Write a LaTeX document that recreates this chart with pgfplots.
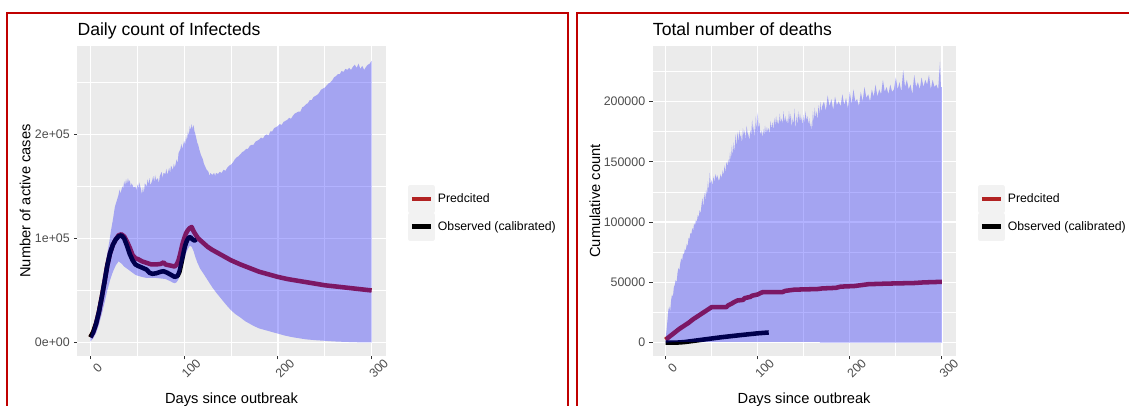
\documentclass[border=0pt]{standalone}
\usepackage{pgfplots}
\pgfplotsset{compat=1.18}
\usepackage{fontspec}
\setmainfont{Liberation Sans}
\definecolor{panelbg}{HTML}{EBEBEB}
\definecolor{firebrick}{HTML}{B22222}
\definecolor{borderred}{HTML}{C00000}
\definecolor{ticktext}{HTML}{4D4D4D}
\definecolor{tickcol}{HTML}{333333}
\definecolor{keybg}{HTML}{F2F2F2}

\pgfplotsset{
  ggstyle/.style={
    scale only axis,
    anchor=south west,
    axis background/.style={fill=panelbg},
    axis x line*=bottom, axis y line*=left,
    axis line style={draw=none},
    tick align=outside,
    major tick length=2.6pt,
    minor tick length=0pt,
    tick style={color=tickcol, line width=0.8pt},
    grid=both,
    major grid style={white, line width=1pt},
    minor grid style={white, line width=0.5pt},
    xmin=-14, xmax=315,
    xtick={0,100,200,300},
    xticklabels={0,100,200,300},
    minor xtick={50,150,250},
    scaled y ticks=false,
    ticklabel style={font=\fontsize{9.3}{11}\selectfont, text=ticktext},
    xticklabel style={xshift=5.25pt, yshift=-6.8pt, rotate=45, anchor=center},
    yticklabel style={anchor=east, xshift=0.5pt},
    every axis title/.style={at={(axis description cs:0,1)}, anchor=base west, inner sep=0pt, yshift=7.7pt, font=\fontsize{13.2}{15}\selectfont},
    label style={font=\fontsize{11}{13}\selectfont},
    xlabel style={at={(axis description cs:0.5,0)}, anchor=base, yshift=-35.5pt},
    xlabel={Days since outbreak},
    legend style={at={(axis description cs:1,0.5)}, anchor=west, xshift=16.5pt, yshift=-9pt,
      draw=none, fill=none, font=\fontsize{9.2}{11}\selectfont,
      row sep=0pt, column sep=2pt, inner sep=0pt, outer sep=0pt,
      nodes={inner sep=0pt}},
    legend cell align=left,
    legend image code/.code={
      \fill[keybg] (0pt,-8.625pt) rectangle (17.25pt,8.625pt);
      \draw[##1, line cap=butt] (1.5pt,0pt) -- (15.75pt,0pt);
    },
  },
  predline/.style={firebrick, line width=3.4pt, line join=round},
  obsline/.style={black, line width=3.4pt, line join=round},
  ribbon/.style={fill=blue, fill opacity=0.3, draw=none, forget plot},
}

\begin{document}
\begin{tikzpicture}
% ---------------- Left panel ----------------
\begin{axis}[ggstyle,
  at={(57.98pt,37.5pt)}, width=231.3pt, height=232.5pt,
  ymin=-13000, ymax=285000,
  ytick={0,100000,200000},
  yticklabels={0e+00,1e+05,2e+05},
  minor ytick={50000,150000,250000},
  title={Daily count of Infecteds},
  ylabel={Number of active cases},
  ylabel style={at={(axis description cs:-0.1695,0.5)}, anchor=center, rotate=0},
]
% predicted
\addplot[predline] coordinates {
(0,5000)(3,10000)(6,18000)(9,29000)(12,43000)(15,58000)(18,74000)(21,86000)(24,94000)(27,99000)(30,103000)(33,104000)(36,102000)(39,97000)(42,91000)(45,84000)(48,81000)(51,80000)(55,78000)(60,76500)(65,75000)(70,75000)(75,75500)(78,77000)(80,75000)(85,74000)(90,73000)(92,75000)(94,79000)(96,86000)(98,94000)(100,100000)(102,105000)(104,108000)(106,110000)(108,111000)(110,107000)(112,104000)(115,100000)(120,96000)(125,92000)(130,89000)(140,84000)(150,79000)(160,75000)(170,71500)(180,68000)(190,65500)(200,63000)(210,61000)(220,59500)(230,58000)(240,56500)(250,55000)(260,54000)(270,53000)(280,52000)(290,51000)(300,50000)
};
\addlegendentry{Predcited}
% observed
\addplot[obsline] coordinates {
(0,5000)(3,10000)(6,18000)(9,29000)(12,43000)(15,58000)(18,74000)(21,86000)(24,94000)(27,99000)(30,102000)(33,103000)(36,100000)(39,93000)(42,85000)(45,79000)(48,75000)(51,73500)(55,72000)(60,70000)(63,67000)(66,66000)(70,66500)(75,68000)(78,68500)(82,67000)(86,65000)(90,63000)(93,64000)(95,68000)(97,76000)(99,85000)(101,93000)(103,98000)(105,101000)(107,101000)(109,99000)(111,98000)(113,99000)
};
\addlegendentry{Observed (calibrated)}
% uncertainty ribbon: upper bound (forward) then lower bound (backward)
\addplot[ribbon] coordinates {
(0,6000)(2,12000)(4,20000)(6,27000)(8,36000)(10,45000)(12,56000)(14,67000)(16,76000)(18,86000)(20,96000)(22,108000)(24,118000)(26,130000)(28,136000)(30,142000)(31,147000)(32,143000)(34,150000)(35,148000)(36,155000)(37,151000)(38,157000)(39,152000)(40,158000)(41,154000)(42,156000)(43,150000)(44,153000)(46,149000)(48,150000)(49,146000)(50,152000)(51,148000)(52,154000)(54,147000)(55,142000)(56,150000)(57,143000)(58,153000)(60,150000)(61,157000)(62,152000)(63,158000)(64,151000)(66,156000)(67,160000)(68,154000)(69,161000)(70,156000)(72,158000)(73,153000)(74,160000)(76,164000)(77,158000)(78,163000)(80,162000)(81,167000)(82,161000)(84,168000)(85,163000)(86,170000)(88,166000)(89,172000)(90,168000)(92,176000)(93,172000)(94,182000)(96,186000)(97,191000)(98,186000)(100,194000)(101,190000)(102,198000)(103,194000)(104,203000)(105,199000)(106,208000)(107,204000)(108,210000)(109,205000)(110,209000)(111,203000)(112,200000)(113,196000)(114,192000)(115,190000)(116,186000)(117,183000)(118,180000)(120,176000)(121,172000)(122,170000)(124,166000)(126,164000)(127,160000)(128,163000)(130,161000)(132,163000)(133,160000)(134,163000)(136,162000)(138,164000)(140,163000)(142,166000)(144,165000)(146,168000)(148,170000)(150,171000)(152,173000)(154,176000)(156,178000)(158,179000)(160,181000)(162,183000)(164,184000)(166,186000)(168,186000)(170,189000)(172,190000)(174,190000)(176,193000)(178,194000)(180,195000)(182,197000)(184,196000)(186,199000)(188,200000)(190,199000)(192,203000)(194,203000)(196,206000)(198,207000)(200,208000)(202,210000)(204,209000)(206,212000)(208,213000)(210,214000)(212,216000)(214,215000)(216,218000)(218,220000)(220,221000)(222,222000)(224,222000)(226,226000)(228,227000)(230,229000)(232,230000)(234,233000)(236,233000)(238,236000)(240,237000)(242,238000)(244,240000)(246,243000)(248,244000)(250,245000)(252,247000)(254,249000)(256,250000)(258,252000)(260,255000)(262,256000)(264,258000)(266,258000)(268,261000)(270,260000)(272,263000)(274,262000)(276,264000)(278,262000)(280,265000)(282,267000)(284,264000)(286,268000)(288,263000)(290,266000)(292,262000)(294,265000)(296,267000)(298,268000)(300,271000)
(300,0)(285,200)(270,600)(260,1000)(250,1600)(240,2200)(230,3000)(216,5000)(208,6500)(200,8500)(190,11000)(180,13500)(175,15500)(170,18000)(165,20500)(160,24000)(155,27000)(150,31000)(145,36000)(140,41500)(135,47000)(130,53000)(125,60000)(120,67000)(117,71000)(114,77000)(112,82000)(110,88000)(108,92000)(106,93000)(104,90000)(102,86000)(100,80000)(98,73000)(96,66000)(94,61000)(92,58000)(90,57000)(88,57500)(85,59000)(80,61000)(75,61500)(70,62000)(65,62000)(60,62000)(55,63000)(51,64000)(48,65000)(45,67000)(42,69000)(39,71000)(36,73000)(33,76000)(30,78000)(27,74000)(24,68000)(21,60000)(18,50000)(15,38000)(12,27000)(9,17000)(6,9000)(3,4000)(0,1000)
} -- cycle;
\end{axis}

% ---------------- Right panel ----------------
\begin{axis}[ggstyle,
  at={(489.5pt,37.5pt)}, width=227.25pt, height=232.5pt,
  ymin=-11000, ymax=246000,
  ytick={0,50000,100000,150000,200000},
  yticklabels={0,50000,100000,150000,200000},
  minor ytick={25000,75000,125000,175000,225000},
  title={Total number of deaths},
  ylabel={Cumulative count},
  ylabel style={at={(axis description cs:-0.1905,0.5)}, anchor=center, rotate=0},
]
\addplot[predline] coordinates {
(0,2500)(5,5500)(10,8500)(15,11500)(20,14000)(25,16500)(30,19500)(35,22000)(40,24500)(45,27000)(50,29500)(66,29500)(68,31000)(72,32500)(74,33500)(78,35000)(84,35500)(86,37000)(92,38000)(94,39000)(100,40000)(104,41500)(106,42000)(127,42000)(130,43000)(135,43500)(140,44000)(165,44500)(170,45000)(185,45500)(190,46500)(205,47000)(215,48000)(220,48500)(240,49000)(270,49500)(280,50000)(300,50500)
};
\addlegendentry{Predcited}
\addplot[obsline] coordinates {
(0,0)(10,0)(20,500)(40,2500)(60,4500)(80,6200)(100,7800)(112,8500)
};
\addlegendentry{Observed (calibrated)}
\addplot[ribbon] coordinates {
(0,3000)(1,10000)(2,18000)(3,27000)(4,30000)(5,26000)(6,35000)(7,40000)(8,38000)(9,46000)(10,48000)(11,52000)(12,50000)(13,58000)(14,62000)(15,60000)(16,66000)(17,70000)(18,68000)(19,74000)(20,73000)(21,78000)(22,76000)(23,82000)(24,80000)(25,87000)(26,86000)(27,91000)(28,90000)(29,95000)(30,93000)(31,99000)(32,97000)(33,102000)(34,100000)(35,106000)(36,104000)(37,110000)(38,107000)(39,114000)(40,120000)(41,112000)(42,124000)(43,118000)(44,127000)(45,122000)(46,134000)(47,126000)(48,141000)(49,131000)(50,135000)(51,130000)(52,138000)(53,133000)(54,140000)(55,136000)(56,139000)(58,134000)(60,140000)(61,136000)(62,143000)(63,139000)(64,147000)(65,141000)(66,150000)(67,146000)(68,152000)(69,148000)(70,158000)(71,151000)(72,164000)(73,155000)(74,166000)(75,158000)(76,173000)(77,162000)(78,175000)(79,166000)(80,176000)(81,170000)(82,173000)(83,165000)(84,178000)(85,172000)(86,176000)(87,168000)(88,180000)(89,174000)(90,172000)(91,168000)(92,176000)(93,172000)(94,185000)(95,175000)(96,180000)(97,170000)(98,188000)(99,176000)(100,191000)(101,178000)(102,182000)(103,172000)(104,176000)(105,170000)(106,177000)(107,172000)(108,180000)(109,173000)(110,179000)(111,175000)(112,178000)(113,173000)(114,184000)(115,177000)(116,183000)(117,176000)(118,186000)(119,180000)(120,188000)(121,181000)(122,185000)(123,180000)(124,190000)(125,182000)(126,186000)(127,181000)(128,192000)(129,183000)(130,188000)(131,182000)(132,186000)(133,180000)(134,192000)(135,184000)(136,190000)(137,178000)(138,186000)(139,181000)(140,194000)(141,176000)(142,188000)(143,180000)(144,192000)(145,184000)(146,190000)(147,183000)(148,187000)(149,180000)(150,189000)(151,182000)(152,192000)(153,184000)(154,188000)(155,181000)(156,186000)(157,178000)(158,183000)(159,175000)(160,192000)(161,183000)(162,195000)(163,186000)(164,192000)(165,184000)(166,197000)(167,189000)(168,200000)(169,191000)(170,196000)(172,200000)(174,192000)(176,205000)(178,196000)(180,202000)(182,193000)(184,204000)(186,197000)(188,200000)(190,196000)(192,206000)(194,197000)(196,203000)(198,194000)(200,208000)(202,198000)(204,210000)(206,200000)(208,202000)(210,196000)(212,208000)(214,200000)(216,212000)(218,203000)(220,206000)(222,200000)(224,210000)(226,204000)(228,214000)(230,204000)(232,210000)(234,206000)(236,218000)(238,208000)(240,212000)(242,206000)(244,214000)(246,208000)(248,210000)(250,220000)(252,210000)(254,216000)(256,208000)(258,226000)(260,212000)(262,218000)(264,210000)(266,214000)(268,206000)(270,222000)(272,212000)(274,216000)(276,210000)(278,220000)(280,212000)(282,218000)(284,214000)(286,222000)(288,210000)(290,218000)(292,212000)(294,214000)(296,210000)(298,233000)(299,212000)(300,212000)
(300,0)(168,0)(167,800)(10,600)(0,0)
} -- cycle;
\end{axis}

% panel borders
\draw[borderred, line width=1.5pt] (5.475pt,-2pt) -- (5.475pt,294.98pt) -- (426.2pt,294.98pt) -- (426.2pt,-2pt);
\draw[borderred, line width=1.5pt] (432.5pt,-2pt) -- (432.5pt,294.98pt) -- (850pt,294.98pt);

\pgfresetboundingbox
\path[use as bounding box] (0,0) rectangle (846.75pt,304.5pt);
\end{tikzpicture}
\end{document}
